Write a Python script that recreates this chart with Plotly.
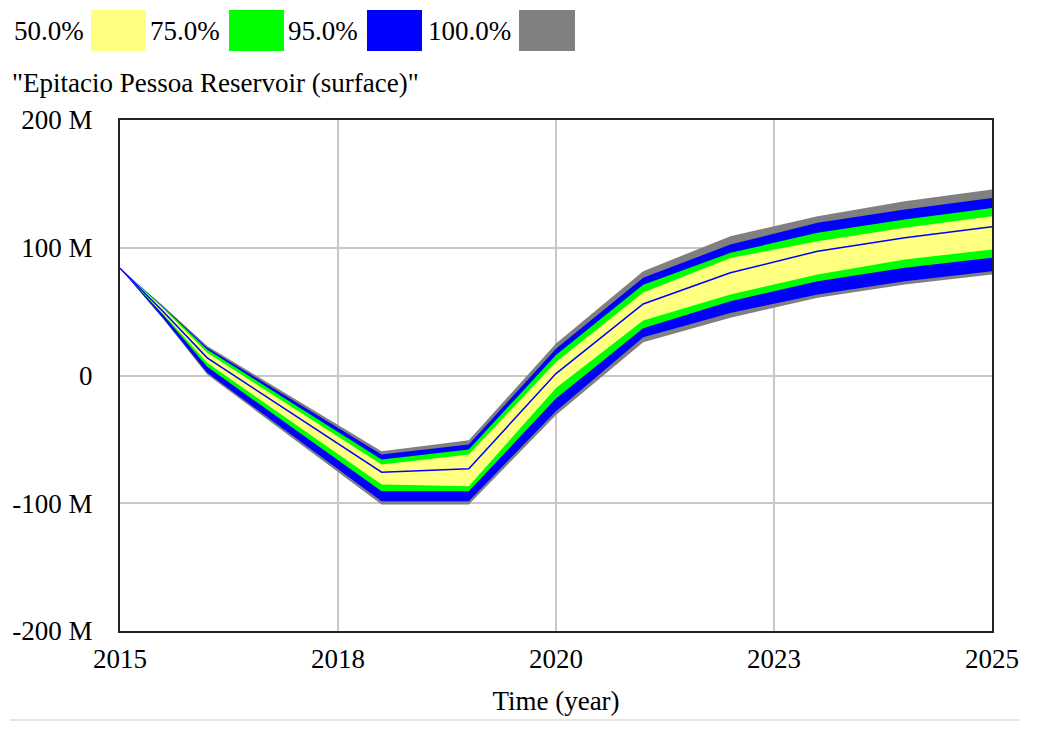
import plotly.graph_objects as go

# time axis (years) and sensitivity bounds, in millions
years = [2015, 2015.5, 2016, 2018, 2019, 2020, 2021, 2022, 2023, 2024, 2025]
gray_top = [84, 54.2, 23, -59.3, -50.6, 25, 81.7, 109, 124.7, 136.4, 145.6]
blue_top = [84, 53.5, 21.7, -61.8, -54, 21, 76.5, 102.5, 119.5, 130, 139]
green_top = [84, 53, 20.4, -65.8, -57.9, 16, 71, 96, 111.7, 122.1, 131.2]
yellow_top = [84, 52, 17.8, -69.7, -61.8, 10.5, 65, 92, 105.1, 115.6, 124.7]
base_run = [84, 49.7, 13.8, -75.7, -73, 1.5, 56, 80.4, 97.3, 107.8, 116.4]
yellow_bot = [84, 48, 9.9, -85.3, -86.7, -9.7, 43, 63.4, 79, 90.8, 98.6]
green_bot = [84, 47, 6.8, -90.6, -90.6, -18, 37, 58.2, 73.8, 84.3, 92.1]
blue_bot = [84, 44.5, 2.1, -98.4, -98.4, -28, 30, 49, 63.4, 73.8, 81.7]
gray_bot = [84, 43.8, 0.8, -101, -101, -31, 26, 45.2, 60.8, 71.2, 79]

band_labels = ["50.0%", "75.0%", "95.0%", "100.0%"]
x_tickvals = [2015, 2017.5, 2020, 2022.5, 2025]
x_ticktext = ["2015", "2018", "2020", "2023", "2025"]
y_tickvals = [-200, -100, 0, 100, 200]
y_ticktext = ["-200 M", "-100 M", "0", "100 M", "200 M"]

FONT = "Liberation Serif, Times New Roman, serif"
W, H = 1042, 729
OFF = 8                            # page body margin shifts the figure
L, R, T, B = 120, 992, 120, 631    # plot area in screen pixels


def px(x):
    return (x - L) / (R - L)


def py(y):
    return (B - y) / (B - T)


fig = go.Figure()

bands = [
    (gray_top, gray_bot, "#808080"),
    (blue_top, blue_bot, "#0000ff"),
    (green_top, green_bot, "#00ff00"),
    (yellow_top, yellow_bot, "#ffff80"),
]
for top, bot, color in bands:
    xs = years + years[::-1]
    ys = [v * 1e6 for v in top] + [v * 1e6 for v in bot[::-1]]
    fig.add_trace(go.Scatter(x=xs, y=ys, fill="toself", fillcolor=color,
                             line=dict(width=0), mode="lines",
                             hoverinfo="skip", showlegend=False))

fig.add_trace(go.Scatter(x=years, y=[v * 1e6 for v in base_run], mode="lines",
                         line=dict(color="#0000ff", width=1.5), showlegend=False))

fig.update_xaxes(range=[2015, 2025], tickvals=x_tickvals, ticktext=x_ticktext,
                 showgrid=True, gridcolor="#c8c8c8", gridwidth=1.5,
                 showline=True, mirror=True, linecolor="#222222", linewidth=2,
                 zeroline=False, ticklabelstandoff=3, automargin=False,
                 title=dict(text="Time (year)", standoff=18,
                            font=dict(family=FONT, size=27, color="black")),
                 tickfont=dict(family=FONT, size=27, color="black"))
fig.update_yaxes(range=[-200e6, 200e6], tickvals=[v * 1e6 for v in y_tickvals],
                 ticktext=y_ticktext, showgrid=True, gridcolor="#c8c8c8",
                 gridwidth=1.5, showline=True, mirror=True, linecolor="#222222",
                 linewidth=2, zeroline=False, ticklabelstandoff=20, automargin=False,
                 tickfont=dict(family=FONT, size=27, color="black"))

# legend row along the top: label then colour box
legend_text_x = [12, 148, 286, 426]
legend_box_x = [(91, 146), (229, 284), (367, 422), (519, 575)]
legend_colors = ["#ffff80", "#00ff00", "#0000ff", "#808080"]
for label, tx, (x0, x1), color in zip(band_labels, legend_text_x, legend_box_x, legend_colors):
    fig.add_annotation(x=px(tx), y=py(31), xref="paper", yref="paper", text=label,
                       showarrow=False, xanchor="left", yanchor="middle",
                       font=dict(family=FONT, size=27, color="black"))
    fig.add_shape(type="rect", xref="paper", yref="paper",
                  x0=px(x0), x1=px(x1), y0=py(51), y1=py(10),
                  fillcolor=color, line=dict(width=0))

fig.add_annotation(x=px(10), y=py(83), xref="paper", yref="paper",
                   text="\"Epitacio Pessoa Reservoir (surface)\"", showarrow=False,
                   xanchor="left", yanchor="middle",
                   font=dict(family=FONT, size=27, color="black"))

fig.add_shape(type="line", xref="paper", yref="paper", x0=px(10), x1=px(1020),
              y0=py(720), y1=py(720), line=dict(color="#e6e6e6", width=2))

fig.update_layout(width=W, height=H, plot_bgcolor="white", paper_bgcolor="white",
                  margin=dict(l=L - OFF, r=W - R + OFF, t=T - OFF, b=H - B + OFF),
                  showlegend=False)

fig.write_html("out.html")
